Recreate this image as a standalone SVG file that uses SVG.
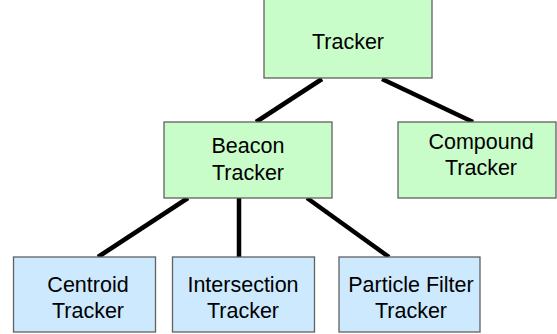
<svg xmlns="http://www.w3.org/2000/svg" width="557" height="334" viewBox="0 0 557 334">
<style>
.g{fill:#c8fcc8;stroke:#606060;stroke-width:1.3}
.b{fill:#cce9fe;stroke:#606060;stroke-width:1.3}
text{font-family:"Liberation Sans",Arial,sans-serif;font-size:21.5px;fill:#000;text-anchor:middle}
.c line{stroke:#000;stroke-width:4.5}
</style>
<rect width="557" height="334" fill="#fff"/>
<g class="c" id="connectors">
<line x1="322" y1="79" x2="256" y2="122"/>
<line x1="382" y1="79" x2="473" y2="122"/>
<line x1="188" y1="198" x2="98" y2="257"/>
<line x1="239" y1="198" x2="239" y2="257"/>
<line x1="307" y1="198" x2="389" y2="257"/>
</g>
<g id="tracker"><rect class="g" x="264" y="-1" width="168" height="79"/><text x="348" y="49">Tracker</text></g>
<g id="beacon"><rect class="g" x="164" y="122" width="168" height="76"/><text x="248" y="153">Beacon</text><text x="248" y="180">Tracker</text></g>
<g id="compound"><rect class="g" x="398" y="122" width="158" height="76"/><text x="481" y="149">Compound</text><text x="481" y="175">Tracker</text></g>
<g id="centroid"><rect class="b" x="13.5" y="257" width="142" height="75"/><text x="88" y="292">Centroid</text><text x="88" y="318">Tracker</text></g>
<g id="intersection"><rect class="b" x="172.5" y="257" width="142" height="75"/><text x="243" y="292">Intersection</text><text x="243" y="318">Tracker</text></g>
<g id="particle"><rect class="b" x="339" y="257" width="141" height="75"/><text x="411" y="292">Particle Filter</text><text x="411" y="318">Tracker</text></g>
</svg>
